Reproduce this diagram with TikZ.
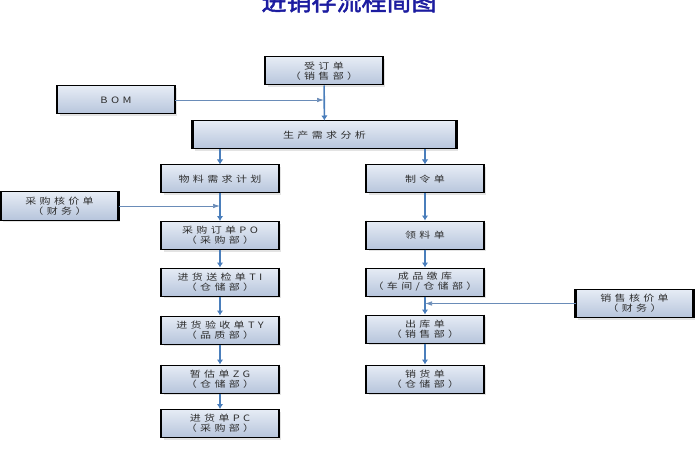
\documentclass[tikz,border=0pt]{standalone}
\usepackage{fontspec}
\newfontfamily\boxfont[FakeStretch=1.25,LetterSpace=38]{Noto Sans CJK SC}
\newfontfamily\titlefont[FakeBold=2]{Noto Sans CJK SC}
\usetikzlibrary{arrows.meta,shadows}
\definecolor{arrowblue}{HTML}{4A7EBB}
\definecolor{feedblue}{HTML}{6A8CB8}
\definecolor{boxtop}{HTML}{E6ECF5}
\definecolor{boxbot}{HTML}{B7C5DC}
\definecolor{boxtext}{HTML}{2E2E2E}
\definecolor{titleblue}{HTML}{1C1CA0}
\tikzset{
  box/.style={minimum width=117pt, minimum height=28pt, inner sep=0pt,
    draw=black, line width=1pt, top color=boxtop, bottom color=boxbot,
    drop shadow={shadow xshift=2pt, shadow yshift=-2pt, opacity=0.22},
    font=\boxfont\fontsize{8.8}{10}\selectfont, text=boxtext, align=center},
  widebox/.style={box, minimum width=263pt},
  sideedge/.style={draw=black, line width=2.6pt},
  flow/.style={draw=arrowblue, line width=1.6pt, -{Latex[length=5pt,width=6.5pt]}},
  feed/.style={draw=feedblue, line width=0.7pt, -{Latex[length=7pt,width=4.5pt]}},
  titletext/.style={font=\titlefont\fontsize{25}{25}\selectfont, text=titleblue, anchor=base}
}
\newcommand{\sides}[1]{\draw[sideedge] (#1.north west) -- (#1.south west) (#1.north east) -- (#1.south east);}
\begin{document}
\begin{tikzpicture}[x=1pt,y=-1pt]
\useasboundingbox (0,0) rectangle (700,470);
\clip (0,0) rectangle (700,470);
\fill[white] (0,0) rectangle (700,470);
\node[titletext] (title) at (349,10.5) {进销存流程简图};
% boxes
\node[box] (order) at (324,71) {受订单\\（销售部）}; \sides{order}
\node[box] (bom) at (116,100) {BOM}; \sides{bom}
\node[widebox] (ana) at (324.5,135) {生产需求分析}; \sides{ana}
\node[box] (mrp) at (220,179) {物料需求计划}; \sides{mrp}
\node[box] (pcost) at (59.5,206) {采购核价单\\（财务）}; \sides{pcost}
\node[box] (po) at (220,235.5) {采购订单PO\\（采购部）}; \sides{po}
\node[box] (ti) at (220,282) {进货送检单TI\\（仓储部）}; \sides{ti}
\node[box] (ty) at (220,330) {进货验收单TY\\（品质部）}; \sides{ty}
\node[box] (zg) at (220,379) {暂估单ZG\\（仓储部）}; \sides{zg}
\node[box] (pc) at (220,423.5) {进货单PC\\（采购部）}; \sides{pc}
\node[box] (mo) at (425,179) {制令单}; \sides{mo}
\node[box] (pick) at (425,235) {领料单}; \sides{pick}
\node[box] (fg) at (425,282) {成品缴库\\（车间/仓储部）}; \sides{fg}
\node[box] (scost) at (634.5,303.5) {销售核价单\\（财务）}; \sides{scost}
\node[box] (out) at (425,329) {出库单\\（销售部）}; \sides{out}
\node[box] (sale) at (425,379) {销货单\\（仓储部）}; \sides{sale}
% flows
\draw[flow] (order) -- (ana);
\draw[flow] (ana.south -| mrp) -- (mrp);
\draw[flow] (ana.south -| mo) -- (mo);
\draw[flow] (mrp) -- (po);
\draw[flow] (po) -- (ti);
\draw[flow] (ti) -- (ty);
\draw[flow] (ty) -- (zg);
\draw[flow] (zg) -- (pc);
\draw[flow] (mo) -- (pick);
\draw[flow] (pick) -- (fg);
\draw[flow] (fg) -- (out);
\draw[flow] (out) -- (sale);
% feeds
\draw[feed] (bom) -- (bom -| order);
\draw[feed] (pcost) -- (pcost -| mrp);
\draw[feed] (scost) -- (scost -| fg);
\end{tikzpicture}
\end{document}
